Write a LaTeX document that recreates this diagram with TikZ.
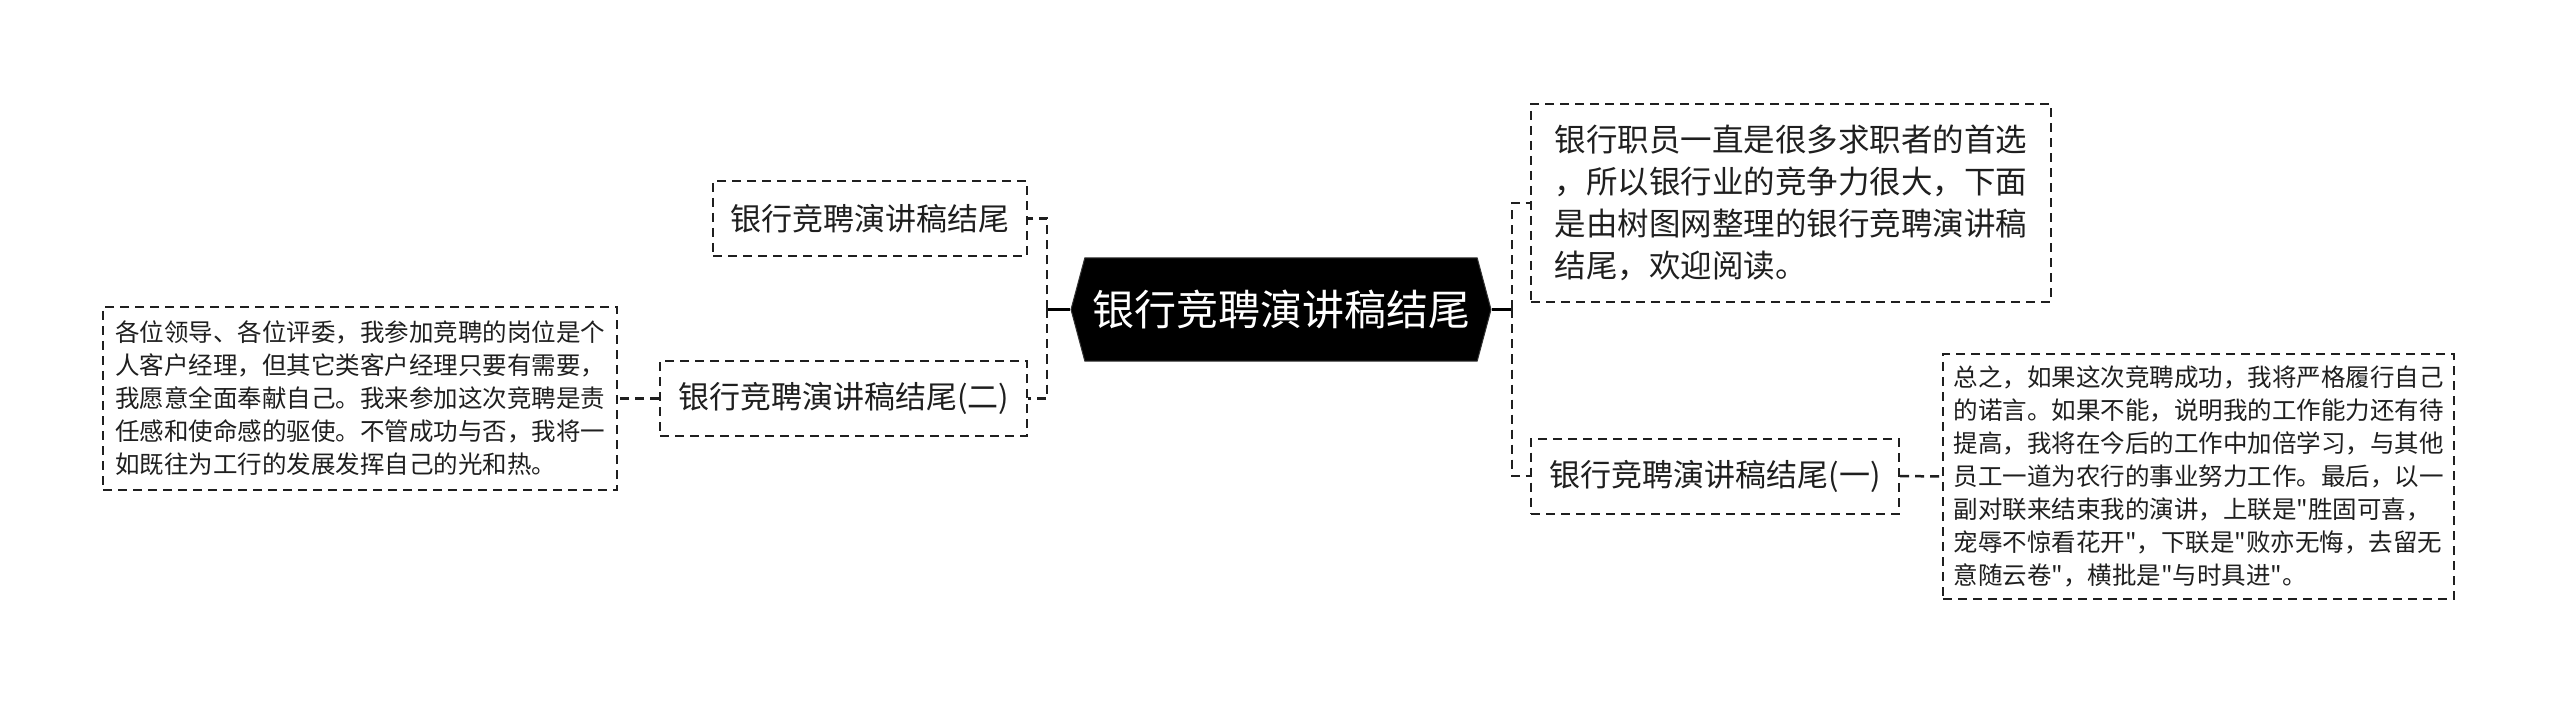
\documentclass[tikz,border=0pt]{standalone}
\usepackage{fontspec}
\setmainfont{Noto Sans CJK SC}
\newfontfamily\plaincjk{Noto Sans CJK SC}
\usetikzlibrary{shapes.symbols}
\begin{document}
\begin{tikzpicture}[x=1pt,y=-1pt,
  box/.style={draw=black!88, line width=2pt, dash pattern=on 9pt off 6pt, inner sep=0pt, align=left, text=black!88},
  mid/.style={box, font=\fontsize{31}{42}\selectfont, minimum height=75pt},
  leaf/.style={box, font=\plaincjk\fontsize{24.5}{33}\selectfont},
  conn/.style={draw=black!88, line width=2.5pt, dash pattern=on 9pt off 6pt},
  stub/.style={draw=black, line width=2.5pt}]
\useasboundingbox[fill=white] (0,0) rectangle (2560,703);

% root
\node[signal, signal to=west and east, signal pointer angle=150, fill=black, draw=black!80, line width=1pt,
      minimum width=420pt, minimum height=103pt, inner sep=0pt, text=white,
      font=\fontsize{42}{50}\selectfont] (root) at (1281,309.5) {银行竞聘演讲稿结尾};

% left side
\node[mid, minimum width=314pt] (l1) at (870,218.5) {银行竞聘演讲稿结尾};
\node[mid, minimum width=367pt] (l2) at (843.5,398.5) {银行竞聘演讲稿结尾(二)};
\node[leaf, minimum width=514pt, minimum height=183pt] (ll) at (360,398.5)
  {各位领导、各位评委，我参加竞聘的岗位是个\\人客户经理，但其它类客户经理只要有需要，\\我愿意全面奉献自己。我来参加这次竞聘是责\\任感和使命感的驱使。不管成功与否，我将一\\如既往为工行的发展发挥自己的光和热。};

% right side
\node[box, font=\fontsize{31.5}{42}\selectfont, minimum width=520pt, minimum height=198pt] (r1) at (1791,203)
  {银行职员一直是很多求职者的首选\\，所以银行业的竞争力很大，下面\\是由树图网整理的银行竞聘演讲稿\\结尾，欢迎阅读。};
\node[mid, minimum width=368pt] (r2) at (1715,476) {银行竞聘演讲稿结尾(一)};
\node[leaf, minimum width=511pt, minimum height=245pt] (rl) at (2198.5,476.5)
  {总之，如果这次竞聘成功，我将严格履行自己\\的诺言。如果不能，说明我的工作能力还有待\\提高，我将在今后的工作中加倍学习，与其他\\员工一道为农行的事业努力工作。最后，以一\\副对联来结束我的演讲，上联是"胜固可喜，\\宠辱不惊看花开"，下联是"败亦无悔，去留无\\意随云卷"，横批是"与时具进"。};

% junctions
\coordinate (jL) at (1047,309.5);
\coordinate (jR) at (1512,309.5);

% connectors
\draw[stub] (root.west) -- (jL);
\draw[stub] (root.east) -- (jR);
\draw[conn] (jL) |- (l1.east);
\draw[conn] (jL) |- (l2.east);
\draw[conn] (jR) |- (r1.west);
\draw[conn] (jR) |- (r2.west);
\draw[conn] (l2.west) -- (ll.east);
\draw[conn] (r2.east) -- (rl.west);
\end{tikzpicture}
\end{document}
